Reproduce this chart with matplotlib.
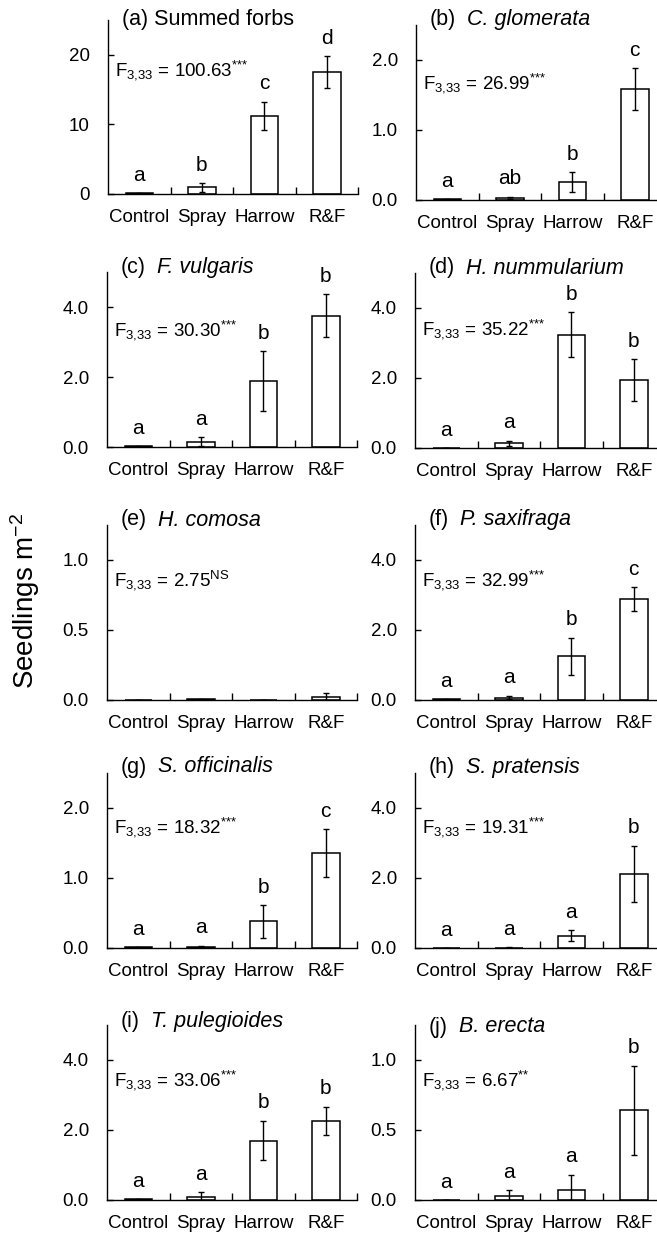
import matplotlib
matplotlib.use("Agg")
import matplotlib.pyplot as plt
from matplotlib import font_manager

# ---------------- data ----------------
treatments = ["Control", "Spray", "Harrow", "R&F"]

panel_ids = ["(a)", "(b)", "(c)", "(d)", "(e)", "(f)", "(g)", "(h)", "(i)", "(j)"]
species = ["Summed forbs", "C. glomerata", "F. vulgaris", "H. nummularium",
           "H. comosa", "P. saxifraga", "S. officinalis", "S. pratensis",
           "T. pulegioides", "B. erecta"]

mean_a = [0.1, 0.95, 11.25, 17.5]
se_a = [0.05, 0.6, 2.0, 2.3]
mean_b = [0.01, 0.03, 0.26, 1.58]
se_b = [0.005, 0.02, 0.14, 0.30]
mean_c = [0.02, 0.15, 1.88, 3.75]
se_c = [0.01, 0.13, 0.85, 0.62]
mean_d = [0.0, 0.13, 3.24, 1.94]
se_d = [0.0, 0.08, 0.65, 0.60]
mean_e = [0.0, 0.005, 0.0, 0.022]
se_e = [0.0, 0.003, 0.0, 0.025]
mean_f = [0.02, 0.07, 1.25, 2.88]
se_f = [0.01, 0.05, 0.53, 0.34]
mean_g = [0.01, 0.02, 0.38, 1.36]
se_g = [0.005, 0.012, 0.23, 0.34]
mean_h = [0.0, 0.01, 0.35, 2.12]
se_h = [0.0, 0.008, 0.16, 0.80]
mean_i = [0.02, 0.10, 1.70, 2.27]
se_i = [0.01, 0.12, 0.57, 0.40]
mean_j = [0.0, 0.03, 0.07, 0.64]
se_j = [0.0, 0.04, 0.11, 0.32]

letters_a = ["a", "b", "c", "d"]
letters_b = ["a", "ab", "b", "c"]
letters_c = ["a", "a", "b", "b"]
letters_d = ["a", "a", "b", "b"]
letters_e = ["", "", "", ""]
letters_f = ["a", "a", "b", "c"]
letters_g = ["a", "a", "b", "c"]
letters_h = ["a", "a", "a", "b"]
letters_i = ["a", "a", "b", "b"]
letters_j = ["a", "a", "a", "b"]

f_values = ["100.63", "26.99", "30.30", "35.22", "2.75", "32.99", "18.32", "19.31", "33.06", "6.67"]
f_sig = ["***", "***", "***", "***", "NS", "***", "***", "***", "***", "**"]

ymax = [25, 2.5, 5, 5, 1.25, 5, 2.5, 5, 5, 1.25]
yticks_a = [0, 10, 20]
yticks_b = [0.0, 1.0, 2.0]
yticks_c = [0.0, 2.0, 4.0]
yticks_e = [0.0, 0.5, 1.0]
ytick_fmt = ["{:.0f}"] + ["{:.1f}"] * 9

means = [mean_a, mean_b, mean_c, mean_d, mean_e, mean_f, mean_g, mean_h, mean_i, mean_j]
ses = [se_a, se_b, se_c, se_d, se_e, se_f, se_g, se_h, se_i, se_j]
letters = [letters_a, letters_b, letters_c, letters_d, letters_e,
           letters_f, letters_g, letters_h, letters_i, letters_j]
yticks = [yticks_a, yticks_b, yticks_c, yticks_c, yticks_e,
          yticks_c, yticks_b, yticks_c, yticks_c, yticks_e]

# ---------------- style ----------------
names = {f.name for f in font_manager.fontManager.ttflist}
REG = "Liberation Sans" if "Liberation Sans" in names else "DejaVu Sans"

plt.rcParams["font.family"] = [REG, "DejaVu Sans"]
plt.rcParams["mathtext.fontset"] = "custom"
plt.rcParams["mathtext.rm"] = REG
plt.rcParams["mathtext.it"] = REG + ":italic"
plt.rcParams["mathtext.bf"] = REG + ":bold"
plt.rcParams["mathtext.default"] = "regular"

W, H = 657, 1237
fig = plt.figure(figsize=(W / 100, H / 100), dpi=100)

# layout in pixels: (left spine x, bottom y, top y, title y center)
layout = [
    (108, 194, 20, 20), (416, 200, 25, 20),
    (107, 447, 272, 268), (415, 448, 273, 268),
    (107, 700, 525, 520), (415, 700, 525, 520),
    (107, 948, 773, 767), (415, 948, 773, 767),
    (107, 1200, 1025, 1022), (415, 1200, 1025, 1027),
]
AX_W = 250
fstat_y = [0.71, 0.67, 0.67, 0.68, 0.686, 0.686, 0.69, 0.69, 0.686, 0.686]
TICK_FS = 13.5

x = list(range(len(treatments)))
for k in range(10):
    lx, by, ty, tcy = layout[k]
    hpx = by - ty
    ax = fig.add_axes([lx / W, 1 - by / H, AX_W / W, hpx / H])
    ax.set_xlim(-0.5, 3.5)
    ax.set_ylim(0, ymax[k])
    ax.bar(x, means[k], width=0.44, color="white", edgecolor="black", linewidth=1.1, zorder=2)
    ax.errorbar(x, means[k], yerr=ses[k], fmt="none", ecolor="black",
                elinewidth=1.0, capsize=2, capthick=1.0, zorder=3)
    for xi, m, s, lab in zip(x, means[k], ses[k], letters[k]):
        if lab:
            ax.annotate(lab, xy=(xi, m + s), xytext=(0, 6), textcoords="offset points",
                        ha="center", va="bottom", fontsize=15, family=REG)
    for sp in ["top", "right"]:
        ax.spines[sp].set_visible(False)
    for sp in ["left", "bottom"]:
        ax.spines[sp].set_linewidth(1.0)
    ax.set_yticks(yticks[k])
    ax.set_yticklabels([ytick_fmt[k].format(v) for v in yticks[k]], family=REG, fontsize=TICK_FS)
    ax.tick_params(axis="y", direction="in", length=4, width=1.0, pad=13)
    ax.set_xticks(x)
    ax.set_xticklabels(treatments, family=REG, fontsize=TICK_FS)
    ax.set_xticks([0.5, 1.5, 2.5, 3.5], minor=True)
    ax.tick_params(axis="x", which="major", length=0, pad=11)
    ax.tick_params(axis="x", which="minor", direction="in", length=5, width=1.0)
    # title
    ty_frac = (by - tcy) / hpx
    t1 = ax.text(14 / AX_W, ty_frac, panel_ids[k], transform=ax.transAxes,
                 ha="left", va="center", fontsize=15.5, family=REG)
    if k == 0:
        t1.set_text(panel_ids[k] + " " + species[k])
    else:
        ax.annotate(species[k], xy=(1, 0), xycoords=t1, xytext=(8, 0),
                    textcoords="offset points", ha="left", va="bottom",
                    fontsize=15.5, family=REG, style="italic")
    # F statistic
    sig = "".join("{" + ch + "}" for ch in f_sig[k])
    ftxt = r"F$_{3{,}33}$ = " + f_values[k] + r"$^{" + sig + r"}$"
    ax.text(7 / AX_W, fstat_y[k], ftxt, transform=ax.transAxes, ha="left",
            va="center", fontsize=TICK_FS, family=REG)

fig.text(25 / W, 1 - 601 / H, r"Seedlings m$^{-2}$", rotation=90,
         ha="center", va="center", fontsize=20, family=REG)

fig.savefig("out.png", dpi=100)
